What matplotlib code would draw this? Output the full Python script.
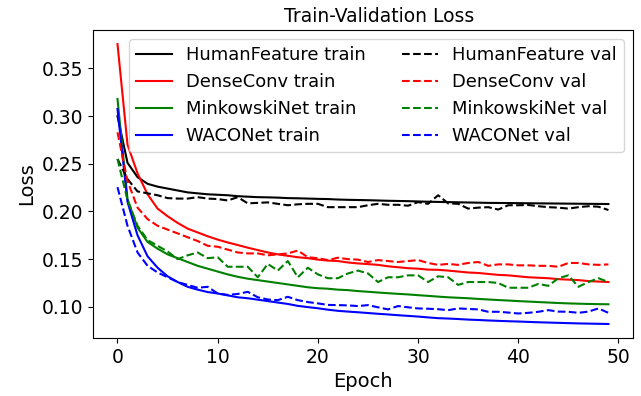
import matplotlib
matplotlib.use("Agg")
import matplotlib.pyplot as plt
import numpy as np

epochs = list(range(50))

hf_train = [0.300, 0.251, 0.236, 0.229, 0.226, 0.224, 0.222, 0.220, 0.219, 0.218,
            0.2175, 0.217, 0.216, 0.2155, 0.215, 0.2148, 0.2145, 0.214, 0.2138, 0.2135,
            0.2132, 0.213, 0.2125, 0.2122, 0.212, 0.2118, 0.2115, 0.2112, 0.211, 0.2108,
            0.2105, 0.2102, 0.210, 0.2098, 0.2096, 0.2094, 0.2092, 0.209, 0.2089, 0.2088,
            0.2087, 0.2086, 0.2085, 0.2084, 0.2083, 0.2082, 0.2081, 0.208, 0.2079, 0.2078]
hf_val = [0.255, 0.234, 0.221, 0.219, 0.217, 0.214, 0.2135, 0.2135, 0.215, 0.2135,
          0.213, 0.2115, 0.215, 0.2085, 0.209, 0.2095, 0.208, 0.2065, 0.2075, 0.208,
          0.208, 0.2045, 0.2045, 0.2045, 0.2045, 0.2065, 0.208, 0.207, 0.207, 0.206,
          0.2098, 0.208, 0.217, 0.2085, 0.208, 0.203, 0.204, 0.2045, 0.202, 0.2065,
          0.2065, 0.2068, 0.2055, 0.2045, 0.204, 0.203, 0.2045, 0.2055, 0.205, 0.2015]
dc_train = [0.3755, 0.270, 0.240, 0.218, 0.203, 0.195, 0.188, 0.182, 0.178, 0.174,
            0.1705, 0.1675, 0.1648, 0.162, 0.1595, 0.157, 0.155, 0.1535, 0.152, 0.151,
            0.1495, 0.1485, 0.148, 0.1465, 0.1455, 0.1448, 0.144, 0.1425, 0.1415, 0.1405,
            0.140, 0.139, 0.1388, 0.138, 0.137, 0.136, 0.1355, 0.1345, 0.1335, 0.133,
            0.132, 0.131, 0.1305, 0.130, 0.129, 0.1285, 0.128, 0.127, 0.1265, 0.126]
dc_val = [0.283, 0.232, 0.204, 0.192, 0.185, 0.181, 0.177, 0.173, 0.169, 0.164,
          0.163, 0.160, 0.157, 0.156, 0.156, 0.154, 0.155, 0.156, 0.159, 0.152,
          0.151, 0.149, 0.1515, 0.150, 0.1495, 0.147, 0.149, 0.148, 0.147, 0.148,
          0.149, 0.146, 0.144, 0.145, 0.144, 0.146, 0.147, 0.143, 0.1445, 0.1445,
          0.1435, 0.1435, 0.143, 0.143, 0.142, 0.146, 0.146, 0.1445, 0.144, 0.1445]
mk_train = [0.318, 0.213, 0.183, 0.168, 0.161, 0.155, 0.151, 0.147, 0.143, 0.140,
            0.137, 0.134, 0.1315, 0.1295, 0.128, 0.1265, 0.125, 0.1235, 0.122, 0.1205,
            0.1195, 0.119, 0.118, 0.1175, 0.1165, 0.1158, 0.115, 0.1143, 0.1136, 0.113,
            0.1122, 0.1115, 0.1107, 0.110, 0.1095, 0.109, 0.1083, 0.1077, 0.1071, 0.1066,
            0.106, 0.1055, 0.105, 0.1045, 0.104, 0.1036, 0.1033, 0.103, 0.1028, 0.1027]
mk_val = [0.255, 0.212, 0.185, 0.170, 0.164, 0.158, 0.150, 0.154, 0.157, 0.151,
          0.152, 0.142, 0.142, 0.142, 0.131, 0.145, 0.138, 0.148, 0.131, 0.141,
          0.134, 0.130, 0.130, 0.135, 0.138, 0.135, 0.126, 0.131, 0.131, 0.133,
          0.133, 0.126, 0.132, 0.131, 0.123, 0.126, 0.126, 0.126, 0.125, 0.120,
          0.120, 0.120, 0.124, 0.122, 0.130, 0.133, 0.121, 0.126, 0.130, 0.126]
wc_train = [0.3075, 0.210, 0.175, 0.153, 0.141, 0.132, 0.126, 0.121, 0.118, 0.1155,
            0.114, 0.112, 0.110, 0.109, 0.1075, 0.106, 0.1045, 0.103, 0.101, 0.0997,
            0.0985, 0.097, 0.0958, 0.095, 0.0943, 0.0935, 0.0927, 0.092, 0.0912, 0.0905,
            0.0898, 0.0889, 0.0881, 0.0877, 0.0872, 0.0866, 0.0862, 0.0857, 0.0853, 0.0849,
            0.0846, 0.0842, 0.0838, 0.0835, 0.0832, 0.0829, 0.0826, 0.0824, 0.0822, 0.082]
wc_val = [0.2255, 0.185, 0.157, 0.143, 0.136, 0.131, 0.126, 0.123, 0.120, 0.121,
          0.114, 0.1125, 0.1135, 0.1157, 0.110, 0.1077, 0.107, 0.1105, 0.107, 0.105,
          0.1036, 0.102, 0.1018, 0.1015, 0.1008, 0.1018, 0.0995, 0.0973, 0.1008, 0.0995,
          0.0983, 0.098, 0.0975, 0.0965, 0.0983, 0.0978, 0.0973, 0.0948, 0.0948, 0.094,
          0.093, 0.0937, 0.0948, 0.0965, 0.095, 0.0948, 0.0937, 0.095, 0.0983, 0.0937]

fig = plt.figure(figsize=(6.41, 3.96), dpi=100)
ax = fig.add_axes([0.145, 0.1465, 0.8425, 0.7775])

ax.plot(epochs, hf_train, color='black', linestyle='-', label='HumanFeature train')
ax.plot(epochs, dc_train, color='red', linestyle='-', label='DenseConv train')
ax.plot(epochs, mk_train, color='green', linestyle='-', label='MinkowskiNet train')
ax.plot(epochs, wc_train, color='blue', linestyle='-', label='WACONet train')
ax.plot(epochs, hf_val, color='black', linestyle='--', label='HumanFeature val')
ax.plot(epochs, dc_val, color='red', linestyle='--', label='DenseConv val')
ax.plot(epochs, mk_val, color='green', linestyle='--', label='MinkowskiNet val')
ax.plot(epochs, wc_val, color='blue', linestyle='--', label='WACONet val')

ax.set_title('Train-Validation Loss', fontsize=13.5, x=0.53)
ax.set_xlabel('Epoch', fontsize=14)
ax.set_ylabel('Loss', fontsize=14)
ax.tick_params(labelsize=13.5)
ax.set_xticks([0, 10, 20, 30, 40, 50])
ax.set_yticks([0.10, 0.15, 0.20, 0.25, 0.30, 0.35])
ax.legend(ncol=2, loc='upper right', fontsize=12.9)

fig.savefig('out.png', dpi=100)
